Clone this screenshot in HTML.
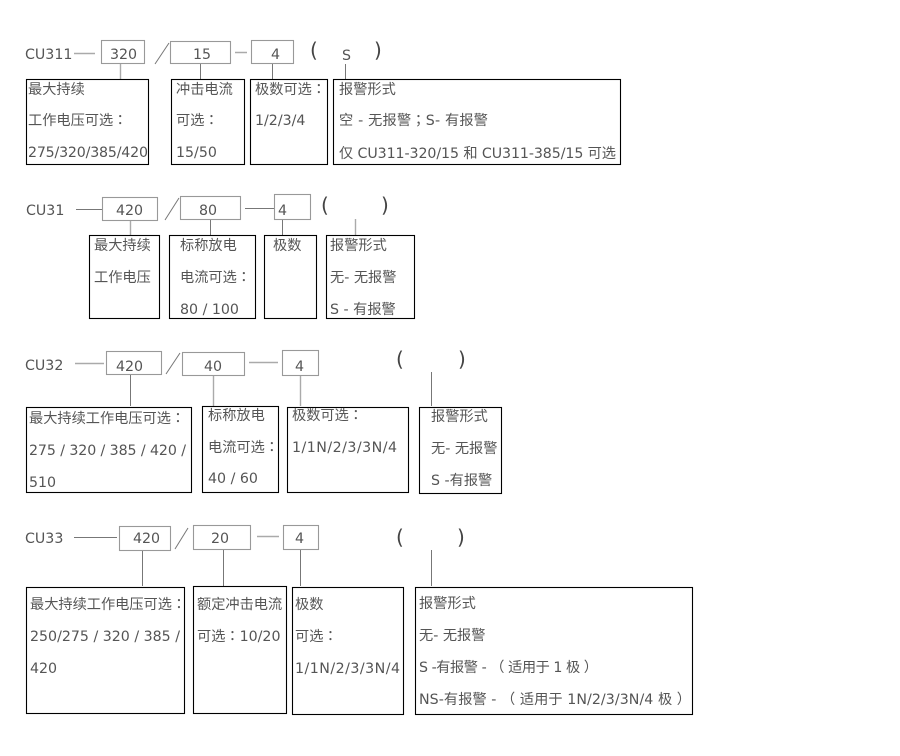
<!DOCTYPE html>
<html><head><meta charset="utf-8"><style>
html,body{margin:0;padding:0;background:#fff}
svg{display:block}
text{font-family:"DejaVu Sans","Noto Sans CJK SC",sans-serif;font-size:14.2px;fill:#555}
tspan.c{font-family:"DejaVu Sans","Noto Sans CJK TC",sans-serif}
.b{fill:none;stroke:#000;stroke-width:1.1}
.g{fill:none;stroke:#999;stroke-width:1.1}
.l{stroke:#aaa;stroke-width:1.4;fill:none}
.d{stroke:#777;stroke-width:1;fill:none}
.p{font-size:20px;fill:#444}
</style></head><body>
<svg width="900" height="756" viewBox="0 0 900 756" xmlns="http://www.w3.org/2000/svg">
<!-- Row 1 -->
<text x="25" y="59">CU311</text>
<path class="l" d="M74 53.500H95M120.500 64V79M235 52.500H247"/>
<path class="d" d="M200.500 64V79M272.500 64V79M345.500 64V79"/>
<path class="d" d="M155 64L169 43"/>
<rect class="g" x="101.500" y="40.500" width="43" height="23"/>
<rect class="g" x="170.500" y="41.500" width="60" height="22"/>
<rect class="g" x="251.500" y="40.500" width="42" height="23"/>
<text x="110" y="59">320</text><text x="193" y="59">15</text><text x="271" y="59">4</text>
<text class="p" x="310" y="57">(</text><text x="342" y="60">S</text><text class="p" x="374" y="57">)</text>
<rect class="b" x="26.500" y="79.500" width="122" height="85"/>
<rect class="b" x="171.500" y="79.500" width="73" height="85"/>
<rect class="b" x="250.500" y="79.500" width="77" height="85"/>
<rect class="b" x="333.500" y="79.500" width="287" height="85"/>
<text x="28" y="94">最大持续</text><text x="28" y="125">工作电压可选<tspan class="c">：</tspan></text><text x="28" y="157" textLength="120">275/320/385/420</text>
<text x="176" y="94">冲击电流</text><text x="176" y="125">可选<tspan class="c">：</tspan></text><text x="176" y="157">15/50</text>
<text x="255" y="94">极数可选<tspan class="c">：</tspan></text><text x="255" y="125">1/2/3/4</text>
<text x="339" y="94">报警形式</text><text x="339" y="125" textLength="149">空 - 无报警<tspan class="c">；</tspan>S- 有报警</text><text x="339" y="158" textLength="277">仅 CU311-320/15 和 CU311-385/15 可选</text>
<!-- Row 2 -->
<text x="26" y="215">CU31</text>
<path class="d" d="M76 209.500H102M210.500 220V235M282.500 220V235M245 208.500H274"/>
<path class="l" d="M130.500 220V235M355.500 219V235"/>
<path class="d" d="M165 220L179 198"/>
<rect class="g" x="102.500" y="197.500" width="55" height="23"/>
<rect class="g" x="180.500" y="196.500" width="60" height="23"/>
<rect class="g" x="274.500" y="194.500" width="36" height="25"/>
<text x="116" y="215">420</text><text x="199" y="215">80</text><text x="278" y="215">4</text>
<text class="p" x="321" y="212">(</text><text class="p" x="381" y="212">)</text>
<rect class="b" x="89.500" y="235.500" width="70" height="83"/>
<rect class="b" x="169.500" y="235.500" width="86" height="83"/>
<rect class="b" x="264.500" y="235.500" width="52" height="83"/>
<rect class="b" x="326.500" y="235.500" width="88" height="83"/>
<text x="94" y="250">最大持续</text><text x="94" y="282">工作电压</text>
<text x="180" y="250">标称放电</text><text x="180" y="282">电流可选<tspan class="c">：</tspan></text><text x="180" y="314">80 / 100</text>
<text x="273" y="250">极数</text>
<text x="330" y="250">报警形式</text><text x="330" y="282">无- 无报警</text><text x="330" y="314">S - 有报警</text>
<!-- Row 3 -->
<text x="25" y="370">CU32</text>
<path class="l" d="M75 363.500H104M213.500 375V407M300.500 375V406M249 362.500H278"/>
<path class="d" d="M130.500 375V406M431.500 372V406"/>
<path class="d" d="M166 374L180 353"/>
<rect class="g" x="106.500" y="351.500" width="55" height="23"/>
<rect class="g" x="182.500" y="352.500" width="62" height="23"/>
<rect class="g" x="282.500" y="350.500" width="36" height="25"/>
<text x="116" y="371">420</text><text x="204" y="371">40</text><text x="295" y="371">4</text>
<text class="p" x="396" y="366">(</text><text class="p" x="458" y="366">)</text>
<rect class="b" x="26.500" y="407.500" width="165" height="85"/>
<rect class="b" x="202.500" y="406.500" width="76" height="86"/>
<rect class="b" x="287.500" y="407.500" width="121" height="85"/>
<rect class="b" x="419.500" y="407.500" width="82" height="86"/>
<text x="29" y="423">最大持续工作电压可选<tspan class="c">：</tspan></text><text x="29" y="455" textLength="157">275 / 320 / 385 / 420 /</text><text x="29" y="487">510</text>
<text x="208" y="420">标称放电</text><text x="208" y="452">电流可选<tspan class="c">：</tspan></text><text x="208" y="483">40 / 60</text>
<text x="292" y="420">极数可选<tspan class="c">：</tspan></text><text x="292" y="452" textLength="105">1/1N/2/3/3N/4</text>
<text x="431" y="421">报警形式</text><text x="431" y="453">无- 无报警</text><text x="431" y="485">S -有报警</text>
<!-- Row 4 -->
<text x="25" y="543">CU33</text>
<path class="d" d="M74 537.500H117M142.500 551V586M223.500 550V586M300.500 550V586M431.500 550V586"/>
<path class="l" d="M257 536.500H279"/>
<path class="d" d="M175 549L188 528"/>
<rect class="g" x="119.500" y="526.500" width="51" height="24"/>
<rect class="g" x="193.500" y="525.500" width="57" height="24"/>
<rect class="g" x="283.500" y="525.500" width="35" height="24"/>
<text x="133" y="543">420</text><text x="211" y="543">20</text><text x="295" y="543">4</text>
<text class="p" x="396" y="544">(</text><text class="p" x="457" y="544">)</text>
<rect class="b" x="26.500" y="587.500" width="158" height="126"/>
<rect class="b" x="193.500" y="586.500" width="93" height="127"/>
<rect class="b" x="292.500" y="587.500" width="111" height="127"/>
<rect class="b" x="415.500" y="587.500" width="277" height="127"/>
<text x="30" y="609">最大持续工作电压可选<tspan class="c">：</tspan></text><text x="30" y="641" textLength="150">250/275 / 320 / 385 /</text><text x="30" y="673">420</text>
<text x="197" y="609">额定冲击电流</text><text x="197" y="641">可选<tspan class="c">：</tspan>10/20</text>
<text x="295" y="609">极数</text><text x="295" y="641">可选<tspan class="c">：</tspan></text><text x="295" y="673" textLength="105">1/1N/2/3/3N/4</text>
<text x="419" y="608">报警形式</text><text x="419" y="640">无- 无报警</text><text x="419" y="672" textLength="179">S -有报警 - （ 适用于 1 极 ）</text><text x="419" y="704" textLength="272">NS-有报警 - （ 适用于 1N/2/3/3N/4 极 ）</text>
</svg>
</body></html>
